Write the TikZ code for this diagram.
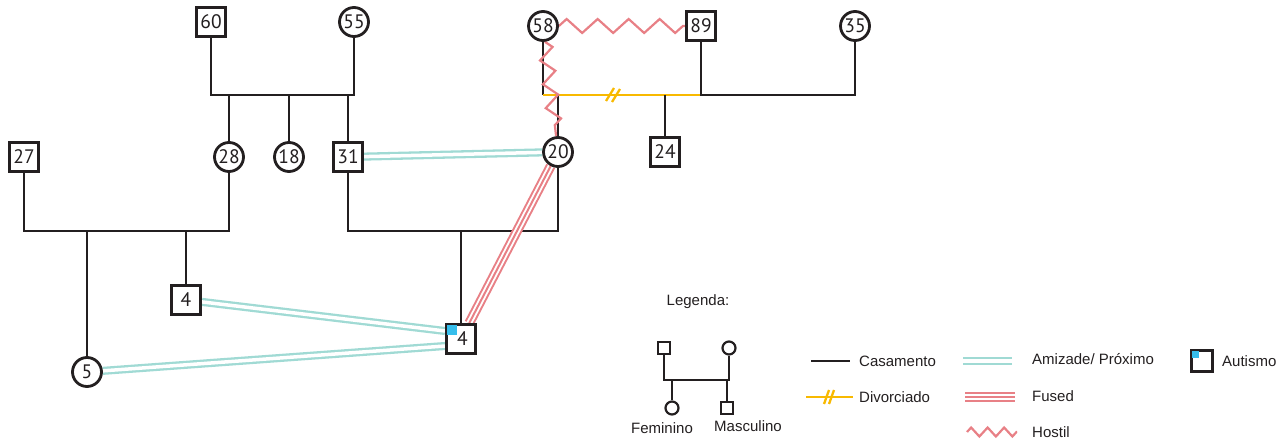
\documentclass[tikz,border=0pt]{standalone}
\usepackage{fontspec}
\setmainfont{Liberation Sans}
\newfontfamily\numfont{PT Sans}
\usetikzlibrary{decorations.pathmorphing,calc}
\definecolor{famc}{RGB}{35,31,32}
\definecolor{tealrel}{RGB}{160,218,212}
\definecolor{redrel}{RGB}{232,128,134}
\definecolor{divy}{RGB}{248,185,0}
\definecolor{autblue}{RGB}{54,190,236}
\pgfdeclarelayer{bg}
\pgfsetlayers{bg,main}
\tikzset{
  person/.style={draw=famc, line width=2.8pt, fill=white, minimum size=29pt, inner sep=0pt, font=\numfont\fontsize{19.5}{19.5}\selectfont, text=famc},
  sq/.style={person, rectangle},
  ci/.style={person, circle},
  lperson/.style={draw=famc, line width=2.2pt, fill=white, inner sep=0pt},
  lsq/.style={lperson, rectangle, minimum size=12pt},
  lci/.style={lperson, circle, minimum size=13pt},
  famline/.style={draw=famc, line width=2.9pt},
  legline/.style={draw=famc, line width=2.3pt},
  divline/.style={draw=divy, line width=2.7pt},
  amiz/.style={draw=tealrel, line width=2.3pt, double=white, double distance=3.5pt},
  fusedout/.style={draw=redrel, line width=2pt, double=white, double distance=5.8pt},
  fusedin/.style={draw=redrel, line width=2pt},
  hostile/.style={draw=redrel, line width=2.2pt, decorate, decoration={zigzag, amplitude=7pt, segment length=31pt}},
  legtext/.style={font=\fontsize{15}{15}\selectfont, text=famc, inner sep=0pt},
}
\begin{document}
\begin{tikzpicture}[x=1pt, y=-1pt]
\useasboundingbox (0,0) rectangle (1287,441);
% persons
\node[sq] (n60) at (211,22) {60};
\node[ci] (n55) at (354,22) {55};
\node[ci] (n58) at (543,26) {58};
\node[sq] (n89) at (701,26) {89};
\node[ci] (n35) at (855,26) {35};
\node[sq] (n27) at (24,157) {27};
\node[ci] (n28) at (229,157) {28};
\node[ci] (n18) at (289,157) {18};
\node[sq] (n31) at (348,157) {31};
\node[ci] (n20) at (558,152) {20};
\node[sq] (n24) at (665,152) {24};
\node[sq] (n4a) at (186,300) {4};
\node[sq] (n4b) at (461,339) {\hspace*{3pt}\raisebox{-2pt}{4}};
\node[ci] (n5) at (87,372) {5};
\fill[autblue] ([shift={(1.4,1.4)}]n4b.north west) rectangle ++(10,10);

\begin{pgfonlayer}{bg}
% generation 1
\draw[famline] (n60) -- (n60 |- 0,95) -| (n55);
\draw[famline] (n28 |- 0,95) -- (n28);
\draw[famline] (n18 |- 0,95) -- (n18);
\draw[famline] (n31 |- 0,95) -- (n31);
\draw[famline] (n58) -- (n58 |- 0,95);
\draw[divline] (n58 |- 0,95) -- (n89 |- 0,95);
\coordinate (dv) at (613,95);
\draw[divy, line width=2.3pt] ($(dv)+(-7,6)$) -- ($(dv)+(1,-7)$);
\draw[divy, line width=2.3pt] ($(dv)+(-1,7)$) -- ($(dv)+(7,-6)$);
\draw[famline] (n89) -- (n89 |- 0,95) -- (n35 |- 0,95) -- (n35);
\draw[famline] (n20 |- 0,95) -- (n20);
\draw[famline] (n24 |- 0,95) -- (n24);
% generation 2
\draw[famline] (n27) -- (n27 |- 0,231) -| (n28);
\draw[famline] (n5 |- 0,231) -- (n5);
\draw[famline] (n4a |- 0,231) -- (n4a);
\draw[famline] (n31) -- (n31 |- 0,231) -| (n20);
\draw[famline] (n4b |- 0,231) -- (n4b);
% relations
\draw[amiz] (n31) -- (n20);
\draw[amiz] (n4a) -- ($(n4b.west)+(0,-8)$);
\draw[amiz] (n5) -- ($(n4b.west)+(0,7)$);
\draw[fusedout] (n20) -- (n4b);
\draw[fusedin] (n20) -- (n4b);
\draw[hostile] (n58) -- (n89);
\draw[hostile, decoration={segment length=24pt}] (n58) -- (n20);
\end{pgfonlayer}

% legend
\node[legtext] (leg) at (698,302) {Legenda:};
\node[lsq] (lf) at (664,348) {};
\node[lci] (lm) at (729,348) {};
\node[lci] (lc1) at (672,408) {};
\node[lsq] (lc2) at (727,408) {};
\begin{pgfonlayer}{bg}
\draw[legline] (lf) -- (lf |- 0,380) -| (lm);
\draw[legline] (lc1 |- 0,380) -- (lc1);
\draw[legline] (lc2 |- 0,380) -- (lc2);
\end{pgfonlayer}
\node[legtext] (fem) at (662,428) {Feminino};
\node[legtext] (masc) at (748,426) {Masculino};

\coordinate (c1a) at (811,361); \coordinate (c1b) at (850,361);
\draw[legline] (c1a) -- (c1b);
\node[legtext, anchor=west] (t1) at (859,361) {Casamento};
\coordinate (c2a) at (806,397); \coordinate (c2b) at (853,397);
\draw[divline] (c2a) -- (c2b);
\coordinate (dv2) at (829,397);
\draw[divy, line width=2.3pt] ($(dv2)+(-5,7)$) -- ($(dv2)+(0,-7)$);
\draw[divy, line width=2.3pt] ($(dv2)+(0,7)$) -- ($(dv2)+(5,-7)$);
\node[legtext, anchor=west] (t2) at (859,397) {Divorciado};

\coordinate (c3a) at (963,361); \coordinate (c3b) at (1012,361);
\draw[amiz] (c3a) -- (c3b);
\node[legtext, anchor=west] (t3) at (1032,359) {Amizade/ Próximo};
\coordinate (c4a) at (965,397); \coordinate (c4b) at (1015,397);
\draw[fusedout] (c4a) -- (c4b);
\draw[fusedin] (c4a) -- (c4b);
\node[legtext, anchor=west] (t4) at (1032,396) {Fused};
\coordinate (c5a) at (967,432); \coordinate (c5b) at (1017,432);
\draw[hostile, decoration={amplitude=4.5pt, segment length=16.5pt}] (c5a) -- (c5b);
\node[legtext, anchor=west] (t5) at (1032,432) {Hostil};

\node[draw=famc, line width=2.8pt, minimum size=21pt, inner sep=0pt] (aut) at (1202,361) {};
\fill[autblue] ([shift={(1.4,1.4)}]aut.north west) rectangle ++(7,7);
\node[legtext, anchor=west] (t6) at (1222,361) {Autismo};
\end{tikzpicture}
\end{document}
